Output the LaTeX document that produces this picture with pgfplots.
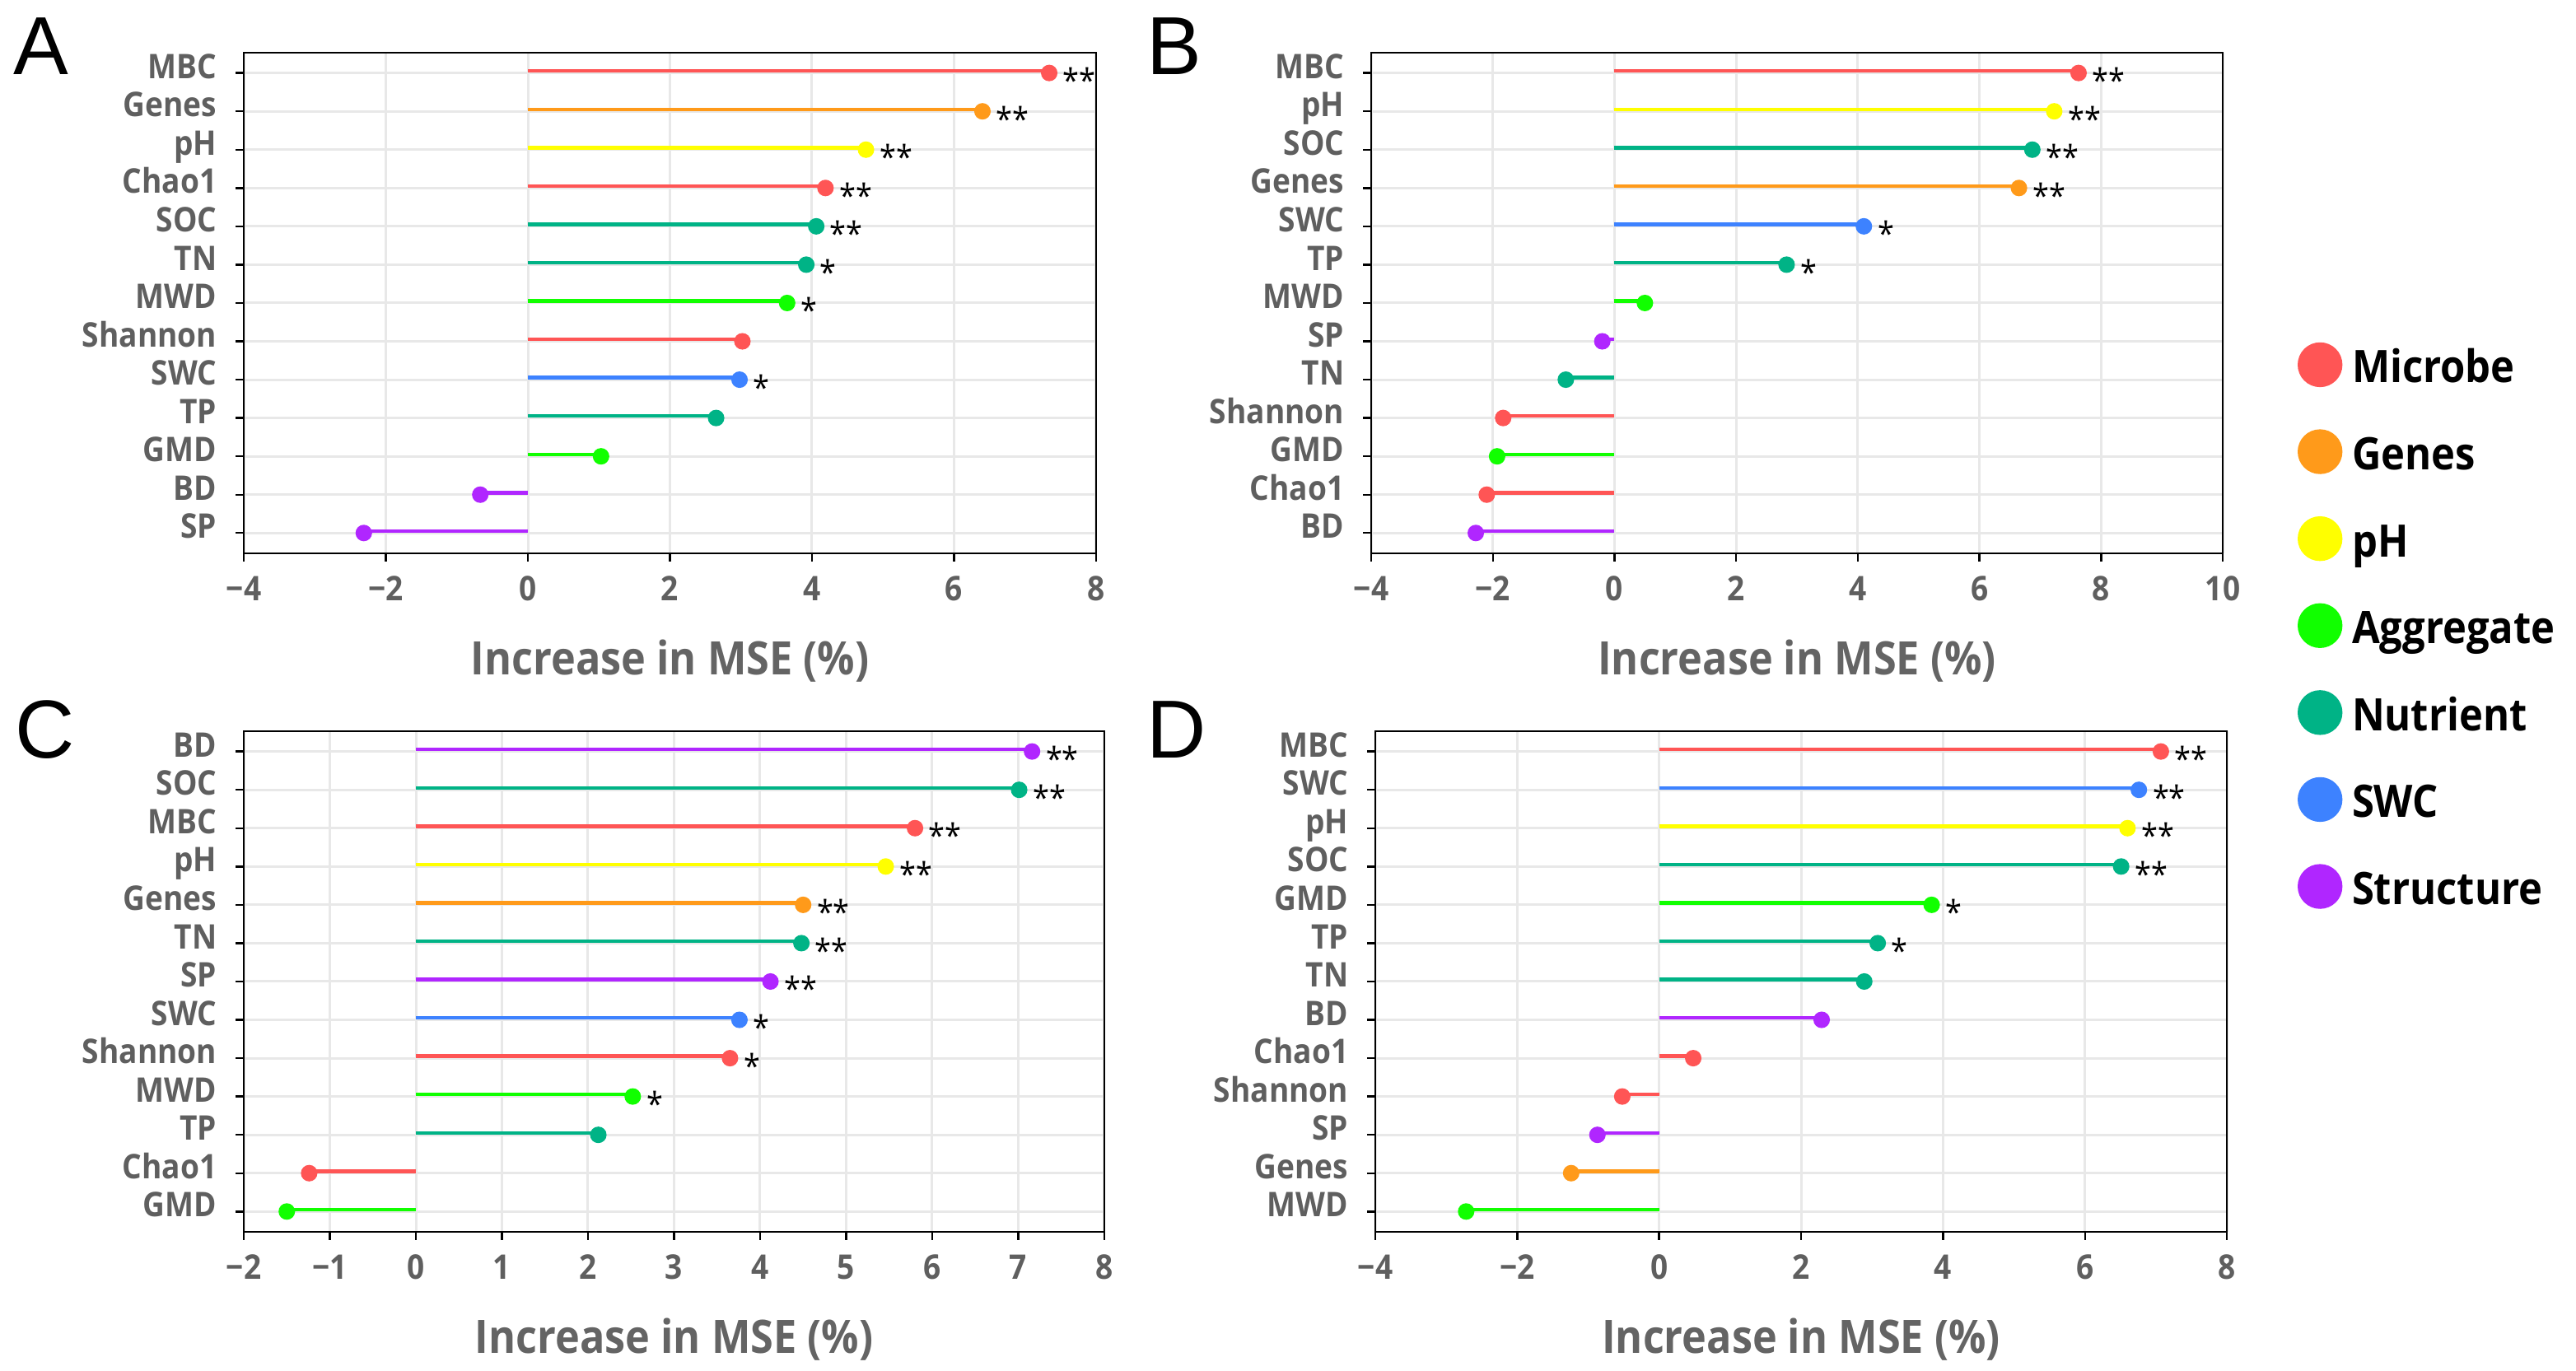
\documentclass[border=0pt]{standalone}
\usepackage{pgfplots}
\usepackage{pgfplotstable}
\pgfplotsset{compat=1.18}
\usepackage{fontspec}
\setmainfont{Open Sans}[FakeStretch=0.9]
\newfontfamily\letfont{Liberation Sans}
\definecolor{gridc}{RGB}{232,232,232}
\definecolor{labc}{RGB}{95,95,95}
\definecolor{axc}{RGB}{100,100,100}
\definecolor{cMic}{RGB}{255,85,85}
\definecolor{cGen}{RGB}{255,154,26}
\definecolor{cPH}{RGB}{255,255,0}
\definecolor{cAgg}{RGB}{17,255,0}
\definecolor{cNut}{RGB}{0,179,134}
\definecolor{cSWC}{RGB}{61,130,255}
\definecolor{cStr}{RGB}{176,38,255}
\newcommand\tickfont{\fontsize{10.3}{12}\selectfont\bfseries}
\newcommand\axfont{\fontsize{14}{16}\selectfont\bfseries}
\newcommand\legfont{\fontsize{13.6}{16}\selectfont\bfseries}
\newcommand\starfont{\fontsize{10}{12}\selectfont\mdseries}

% groups: 0 Microbe, 1 Genes, 2 pH, 3 Aggregate, 4 Nutrient, 5 SWC, 6 Structure
\pgfplotstableread{
pos val grp sig
12 7.34 0 {**}
11 6.40 1 {**}
10 4.76 2 {**}
9 4.19 0 {**}
8 4.06 4 {**}
7 3.92 4 {*}
6 3.65 3 {*}
5 3.02 0 {}
4 2.98 5 {*}
3 2.65 4 {}
2 1.03 3 {}
1 -0.67 6 {}
0 -2.31 6 {}
}\dataA
\pgfplotstableread{
pos val grp sig
12 7.63 0 {**}
11 7.23 2 {**}
10 6.87 4 {**}
9 6.65 1 {**}
8 4.10 5 {*}
7 2.83 4 {*}
6 0.50 3 {}
5 -0.20 6 {}
4 -0.80 4 {}
3 -1.83 0 {}
2 -1.93 3 {}
1 -2.10 0 {}
0 -2.28 6 {}
}\dataB
\pgfplotstableread{
pos val grp sig
12 7.16 6 {**}
11 7.01 4 {**}
10 5.80 0 {**}
9 5.46 2 {**}
8 4.50 1 {**}
7 4.48 4 {**}
6 4.12 6 {**}
5 3.76 5 {*}
4 3.65 0 {*}
3 2.52 3 {*}
2 2.12 4 {}
1 -1.24 0 {}
0 -1.50 3 {}
}\dataC
\pgfplotstableread{
pos val grp sig
12 7.07 0 {**}
11 6.76 5 {**}
10 6.60 2 {**}
9 6.51 4 {**}
8 3.84 3 {*}
7 3.08 4 {*}
6 2.89 4 {}
5 2.29 6 {}
4 0.48 0 {}
3 -0.52 0 {}
2 -0.87 6 {}
1 -1.24 1 {}
0 -2.72 3 {}
}\dataD

\pgfplotsset{
  lolli/.style={
    scale only axis, height=152pt,
    ymin=-0.53, ymax=12.53, ytick={0,...,12},
    xmajorgrids, ymajorgrids,
    grid style={line width=0.75pt, color=gridc},
    axis line style={line width=0.6pt, black},
    tick style={line width=0.6pt, black},
    major tick length=2.5pt,
    tick align=outside, xtick pos=bottom, ytick pos=left,
    ticklabel style={font=\tickfont, text=labc},
    yticklabel style={inner sep=0pt, anchor=base east, xshift=-5.5pt, yshift=-1.65pt},
    xticklabel style={inner sep=0pt, anchor=north, yshift=-4.25pt},
    xlabel={Increase in MSE (\%)},
    xlabel style={font=\axfont, text=axc, at={(axis description cs:0.5,0)}, anchor=base, yshift=-36.9pt},
    clip=false,
  }
}
\newcommand\lolgroup[3]{%
  \addplot[forget plot, xcomb, draw=#3, line width=1.1pt, mark=none, yshift=0.6pt,
    restrict expr to domain={\thisrow{grp}}{#2:#2}]
    table[x=val, y=pos] {#1};
  \addplot[forget plot, only marks, mark=*, mark size=2pt, line width=1pt,
    mark options={draw=#3, fill=#3}, restrict expr to domain={\thisrow{grp}}{#2:#2}]
    table[x=val, y=pos] {#1};
}
\newcommand\lolplots[1]{%
  \lolgroup{#1}{0}{cMic}
  \lolgroup{#1}{1}{cGen}
  \lolgroup{#1}{2}{cPH}
  \lolgroup{#1}{3}{cAgg}
  \lolgroup{#1}{4}{cNut}
  \lolgroup{#1}{5}{cSWC}
  \lolgroup{#1}{6}{cStr}
  \addplot[forget plot, only marks, mark=none, point meta=explicit symbolic, nodes near coords,
    nodes near coords style={anchor=base west, inner sep=0pt, xshift=4pt, yshift=-6pt, font=\starfont, text=black}]
    table[x=val, y=pos, meta=sig] {#1};
}
\newcommand\legdot[2]{\addlegendimage{legend image code/.code={\fill[#1] (0pt,0.5pt) circle (6.6pt);}}\addlegendentry{#2}}

\begin{document}
\begin{tikzpicture}
\useasboundingbox (0,0) rectangle (782pt,416.25pt);

\node[font=\letfont\fontsize{25}{28}\selectfont, anchor=base west, inner sep=0pt] at (4pt,393.5pt) {A};
\node[font=\letfont\fontsize{25}{28}\selectfont, anchor=base west, inner sep=0pt] at (348pt,393.5pt) {B};
\node[font=\letfont\fontsize{25}{28}\selectfont, anchor=base west, inner sep=0pt] at (4.5pt,186.1pt) {C};
\node[font=\letfont\fontsize{25}{28}\selectfont, anchor=base west, inner sep=0pt] at (348pt,186.1pt) {D};

% Panel A
\begin{axis}[lolli, at={(74pt,248.25pt)}, anchor=south west, width=258.75pt,
  xmin=-4, xmax=8, xtick={-4,-2,0,2,4,6,8}, xticklabels={−4,−2,0,2,4,6,8},
  yticklabels={SP,BD,GMD,TP,SWC,Shannon,MWD,TN,SOC,Chao1,pH,Genes,MBC}]
\lolplots{\dataA}
\end{axis}

% Panel B
\begin{axis}[lolli, at={(416.25pt,248.25pt)}, anchor=south west, width=258.5pt,
  xmin=-4, xmax=10, xtick={-4,-2,0,2,4,6,8,10}, xticklabels={−4,−2,0,2,4,6,8,10},
  yticklabels={BD,Chao1,GMD,Shannon,TN,SP,MWD,TP,SWC,Genes,SOC,pH,MBC},
  legend cell align=left,
  legend style={at={(axis description cs:1.088,0.4293)}, anchor=north west, draw=none, fill=none,
    inner sep=0pt, outer sep=0pt, row sep=9.4pt, column sep=2.9pt, font=\legfont,
    nodes={inner sep=0pt, text height=13.5pt, text depth=3.5pt}}]
\legdot{cMic}{Microbe}
\legdot{cGen}{Genes}
\legdot{cPH}{pH}
\legdot{cAgg}{Aggregate}
\legdot{cNut}{Nutrient}
\legdot{cSWC}{SWC}
\legdot{cStr}{Structure}
\lolplots{\dataB}
\end{axis}

% Panel C
\begin{axis}[lolli, at={(74pt,42.25pt)}, anchor=south west, width=261.25pt,
  xmin=-2, xmax=8, xtick={-2,-1,0,1,2,3,4,5,6,7,8}, xticklabels={−2,−1,0,1,2,3,4,5,6,7,8},
  yticklabels={GMD,Chao1,TP,MWD,Shannon,SWC,SP,TN,Genes,pH,MBC,SOC,BD}]
\lolplots{\dataC}
\end{axis}

% Panel D
\begin{axis}[lolli, at={(417.5pt,42.25pt)}, anchor=south west, width=258.5pt,
  xmin=-4, xmax=8, xtick={-4,-2,0,2,4,6,8}, xticklabels={−4,−2,0,2,4,6,8},
  yticklabels={MWD,Genes,SP,Shannon,Chao1,BD,TN,TP,GMD,SOC,pH,SWC,MBC}]
\lolplots{\dataD}
\end{axis}
\end{tikzpicture}
\end{document}
